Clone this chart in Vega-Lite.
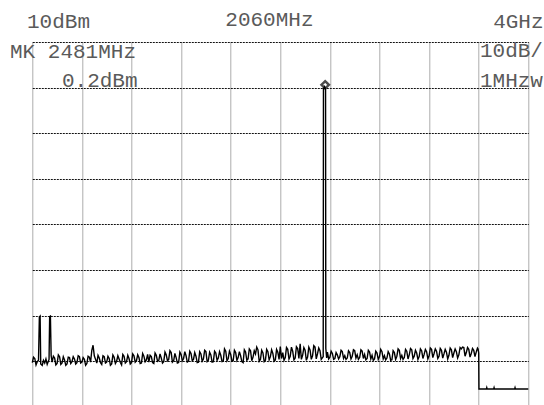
{
  "$schema": "https://vega.github.io/schema/vega-lite/v6.json",
  "width": 496,
  "height": 363,
  "autosize": {"type": "none"},
  "padding": {"left": 32.3, "top": 42, "right": 15.7, "bottom": 0},
  "background": "white",
  "config": {"view": {"stroke": null}},
  "datasets": {
    "trace": [
      {"f":60,"p":-60.3},{"f":70,"p":-59.1},{"f":80,"p":-59.4},{"f":90,"p":-60.8},{"f":100,"p":-60.1},{"f":110,"p":-59.8},{"f":117,"p":-50.3},{"f":123,"p":-50.1},{"f":128,"p":-60.6},
      {"f":140,"p":-60.9},{"f":150,"p":-59.8},{"f":160,"p":-60.4},{"f":170,"p":-59.5},{"f":180,"p":-60.7},{"f":195,"p":-59.6},{"f":200,"p":-50.2},{"f":206,"p":-50.1},{"f":212,"p":-58.8},
      {"f":220,"p":-60.2},{"f":230,"p":-58.9},{"f":240,"p":-59.3},{"f":250,"p":-60.8},{"f":260,"p":-60.5},{"f":270,"p":-58.6},{"f":280,"p":-59.0},{"f":290,"p":-60.7},{"f":300,"p":-60.4},{"f":310,"p":-59.0},{"f":320,"p":-59.7},{"f":330,"p":-60.9},{"f":340,"p":-60.6},
      {"f":350,"p":-59.1},{"f":360,"p":-59.2},{"f":370,"p":-60.5},{"f":380,"p":-60.1},{"f":390,"p":-59.0},{"f":400,"p":-59.5},{"f":410,"p":-60.6},{"f":420,"p":-60.3},{"f":430,"p":-58.8},{"f":440,"p":-59.0},{"f":450,"p":-60.4},{"f":460,"p":-60.2},{"f":470,"p":-59.2},{"f":480,"p":-59.6},
      {"f":490,"p":-60.9},{"f":500,"p":-60.5},{"f":510,"p":-58.9},{"f":520,"p":-59.1},{"f":530,"p":-60.2},{"f":540,"p":-57.6},{"f":550,"p":-56.5},{"f":560,"p":-58.8},{"f":570,"p":-59.6},{"f":580,"p":-60.4},{"f":590,"p":-58.7},{"f":600,"p":-59.3},
      {"f":610,"p":-60.3},{"f":620,"p":-60.7},{"f":630,"p":-58.8},{"f":640,"p":-59.0},{"f":650,"p":-60.4},{"f":660,"p":-60.2},{"f":670,"p":-58.9},{"f":680,"p":-59.4},{"f":690,"p":-60.9},{"f":700,"p":-60.6},{"f":710,"p":-58.6},{"f":720,"p":-59.1},{"f":730,"p":-60.5},{"f":740,"p":-60.0},
      {"f":750,"p":-58.8},{"f":760,"p":-59.5},{"f":770,"p":-60.3},{"f":780,"p":-60.8},{"f":790,"p":-58.5},{"f":800,"p":-58.9},{"f":810,"p":-60.4},{"f":820,"p":-60.1},{"f":830,"p":-58.7},{"f":840,"p":-59.4},{"f":850,"p":-60.6},{"f":860,"p":-60.3},{"f":870,"p":-58.4},{"f":880,"p":-58.8},
      {"f":890,"p":-60.2},{"f":900,"p":-59.9},{"f":910,"p":-58.6},{"f":920,"p":-59.2},{"f":930,"p":-60.5},{"f":940,"p":-60.4},{"f":950,"p":-58.3},{"f":960,"p":-58.9},{"f":970,"p":-60.1},{"f":980,"p":-59.7},{"f":990,"p":-58.5},{"f":1000,"p":-60.2},{"f":1010,"p":-58.7},{"f":1020,"p":-59.0},
      {"f":1030,"p":-60.3},{"f":1040,"p":-60.5},{"f":1050,"p":-58.2},{"f":1060,"p":-58.7},{"f":1070,"p":-60.0},{"f":1080,"p":-59.8},{"f":1090,"p":-58.4},{"f":1100,"p":-59.3},{"f":1110,"p":-60.4},{"f":1120,"p":-60.1},{"f":1130,"p":-58.0},{"f":1140,"p":-58.6},{"f":1150,"p":-59.9},{"f":1160,"p":-59.6},
      {"f":1170,"p":-57.7},{"f":1180,"p":-58.1},{"f":1190,"p":-60.2},{"f":1200,"p":-59.9},{"f":1210,"p":-58.3},{"f":1220,"p":-59.2},{"f":1230,"p":-60.4},{"f":1240,"p":-60.3},{"f":1250,"p":-58.0},{"f":1260,"p":-58.5},{"f":1270,"p":-59.9},{"f":1280,"p":-59.4},{"f":1290,"p":-57.9},{"f":1300,"p":-58.8},
      {"f":1310,"p":-60.2},{"f":1320,"p":-60.0},{"f":1330,"p":-57.8},{"f":1340,"p":-58.3},{"f":1350,"p":-59.9},{"f":1360,"p":-59.6},{"f":1370,"p":-58.1},{"f":1380,"p":-58.9},{"f":1390,"p":-60.3},{"f":1400,"p":-60.2},{"f":1410,"p":-57.9},{"f":1420,"p":-58.4},{"f":1430,"p":-60.0},{"f":1440,"p":-59.5},
      {"f":1450,"p":-57.6},{"f":1460,"p":-57.9},{"f":1470,"p":-60.1},{"f":1480,"p":-59.8},{"f":1490,"p":-58.0},{"f":1500,"p":-58.6},{"f":1510,"p":-60.2},{"f":1520,"p":-60.1},{"f":1530,"p":-57.8},{"f":1540,"p":-58.2},{"f":1550,"p":-59.8},{"f":1560,"p":-59.3},{"f":1570,"p":-57.9},{"f":1580,"p":-58.7},
      {"f":1590,"p":-60.1},{"f":1600,"p":-60.0},{"f":1610,"p":-57.3},{"f":1620,"p":-57.8},{"f":1630,"p":-59.9},{"f":1640,"p":-59.4},{"f":1650,"p":-57.8},{"f":1660,"p":-58.5},{"f":1670,"p":-60.0},{"f":1680,"p":-59.9},{"f":1690,"p":-57.6},{"f":1700,"p":-58.1},{"f":1710,"p":-59.8},{"f":1720,"p":-59.2},
      {"f":1730,"p":-57.9},{"f":1740,"p":-58.8},{"f":1750,"p":-60.1},{"f":1760,"p":-60.3},{"f":1770,"p":-57.5},{"f":1780,"p":-58.0},{"f":1790,"p":-59.8},{"f":1800,"p":-59.5},{"f":1810,"p":-57.3},{"f":1820,"p":-57.7},{"f":1830,"p":-59.9},{"f":1840,"p":-59.1},{"f":1850,"p":-57.7},{"f":1860,"p":-58.4},
      {"f":1870,"p":-56.9},{"f":1880,"p":-57.5},{"f":1890,"p":-60.0},{"f":1900,"p":-59.6},{"f":1910,"p":-57.6},{"f":1920,"p":-58.2},{"f":1930,"p":-60.1},{"f":1940,"p":-59.8},{"f":1950,"p":-57.4},{"f":1960,"p":-57.9},{"f":1970,"p":-59.7},{"f":1980,"p":-59.0},{"f":1990,"p":-57.5},{"f":2000,"p":-58.3},
      {"f":2010,"p":-60.0},{"f":2020,"p":-59.7},{"f":2030,"p":-57.4},{"f":2040,"p":-58.0},{"f":2050,"p":-59.6},{"f":2060,"p":-56.8},{"f":2070,"p":-59.4},{"f":2080,"p":-58.1},{"f":2090,"p":-59.8},{"f":2100,"p":-59.2},{"f":2110,"p":-57.0},{"f":2120,"p":-57.4},{"f":2130,"p":-59.5},{"f":2140,"p":-58.9},
      {"f":2150,"p":-56.9},{"f":2160,"p":-57.8},{"f":2170,"p":-59.7},{"f":2180,"p":-59.3},{"f":2190,"p":-56.8},{"f":2200,"p":-57.2},{"f":2210,"p":-59.4},{"f":2220,"p":-56.2},{"f":2230,"p":-59.6},{"f":2240,"p":-58.7},{"f":2250,"p":-57.0},{"f":2260,"p":-57.6},{"f":2270,"p":-59.8},
      {"f":2280,"p":-59.1},{"f":2290,"p":-56.9},{"f":2300,"p":-57.5},{"f":2310,"p":-59.6},{"f":2320,"p":-58.8},{"f":2330,"p":-56.6},{"f":2340,"p":-56.9},{"f":2350,"p":-59.5},{"f":2360,"p":-58.4},{"f":2370,"p":-57.1},{"f":2380,"p":-57.7},{"f":2390,"p":-59.6},{"f":2400,"p":-59.2},
      {"f":2406,"p":-59.0},{"f":2408,"p":-0.3},{"f":2417,"p":0.2},{"f":2425,"p":-0.3},{"f":2427,"p":-57.2},{"f":2434,"p":-59.3},{"f":2440,"p":-58.0},{"f":2450,"p":-59.5},{"f":2460,"p":-59.1},{"f":2470,"p":-57.8},
      {"f":2480,"p":-58.3},{"f":2490,"p":-59.6},{"f":2500,"p":-59.4},{"f":2510,"p":-58.1},{"f":2520,"p":-58.6},{"f":2530,"p":-59.5},{"f":2540,"p":-59.0},{"f":2550,"p":-57.6},{"f":2560,"p":-57.9},{"f":2570,"p":-59.4},{"f":2580,"p":-58.8},{"f":2590,"p":-59.6},{"f":2600,"p":-59.3},
      {"f":2610,"p":-57.7},{"f":2620,"p":-58.1},{"f":2630,"p":-59.5},{"f":2640,"p":-58.9},{"f":2650,"p":-57.5},{"f":2660,"p":-57.7},{"f":2670,"p":-59.3},{"f":2680,"p":-58.6},{"f":2690,"p":-59.6},{"f":2700,"p":-59.2},{"f":2710,"p":-57.5},{"f":2720,"p":-57.8},{"f":2730,"p":-59.4},{"f":2740,"p":-58.5},
      {"f":2750,"p":-59.7},{"f":2760,"p":-59.4},{"f":2770,"p":-57.6},{"f":2780,"p":-58.0},{"f":2790,"p":-59.5},{"f":2800,"p":-58.7},{"f":2810,"p":-59.8},{"f":2820,"p":-59.5},{"f":2830,"p":-57.8},{"f":2840,"p":-58.2},{"f":2850,"p":-59.6},{"f":2860,"p":-59.0},{"f":2870,"p":-57.4},{"f":2880,"p":-57.9},
      {"f":2890,"p":-59.5},{"f":2900,"p":-58.8},{"f":2910,"p":-59.7},{"f":2920,"p":-59.3},{"f":2930,"p":-57.9},{"f":2940,"p":-58.4},{"f":2950,"p":-59.8},{"f":2960,"p":-59.7},{"f":2970,"p":-57.7},{"f":2980,"p":-58.1},{"f":2990,"p":-59.6},{"f":3000,"p":-58.9},{"f":3010,"p":-57.3},{"f":3020,"p":-57.6},
      {"f":3030,"p":-59.4},{"f":3040,"p":-58.7},{"f":3050,"p":-59.6},{"f":3060,"p":-59.2},{"f":3070,"p":-57.4},{"f":3080,"p":-57.8},{"f":3090,"p":-59.5},{"f":3100,"p":-58.6},{"f":3110,"p":-57.2},{"f":3120,"p":-57.5},{"f":3130,"p":-59.4},{"f":3140,"p":-58.9},{"f":3150,"p":-57.6},{"f":3160,"p":-58.2},
      {"f":3170,"p":-59.6},{"f":3180,"p":-59.0},{"f":3190,"p":-57.3},{"f":3200,"p":-57.7},{"f":3210,"p":-59.4},{"f":3220,"p":-58.5},{"f":3230,"p":-57.4},{"f":3240,"p":-57.9},{"f":3250,"p":-59.5},{"f":3260,"p":-58.8},{"f":3270,"p":-57.1},{"f":3280,"p":-57.4},{"f":3290,"p":-59.2},{"f":3300,"p":-58.3},
      {"f":3310,"p":-57.3},{"f":3320,"p":-57.8},{"f":3330,"p":-59.4},{"f":3340,"p":-58.9},{"f":3350,"p":-57.2},{"f":3360,"p":-57.6},{"f":3370,"p":-59.3},{"f":3380,"p":-58.4},{"f":3390,"p":-57.4},{"f":3400,"p":-58.0},{"f":3410,"p":-59.5},{"f":3420,"p":-58.7},{"f":3430,"p":-57.1},{"f":3440,"p":-57.5},
      {"f":3450,"p":-59.2},{"f":3460,"p":-58.2},{"f":3470,"p":-57.3},{"f":3480,"p":-57.9},{"f":3490,"p":-59.3},{"f":3500,"p":-58.6},{"f":3510,"p":-57.0},{"f":3520,"p":-57.3},{"f":3530,"p":-56.9},{"f":3540,"p":-57.0},{"f":3550,"p":-58.9},{"f":3560,"p":-58.1},{"f":3570,"p":-57.0},{"f":3580,"p":-57.4},
      {"f":3590,"p":-59.1},{"f":3600,"p":-58.3},{"f":3610,"p":-57.2},{"f":3620,"p":-57.6},{"f":3630,"p":-59.0},{"f":3640,"p":-58.0},{"f":3650,"p":-57.1},{"f":3655,"p":-57.3},{"f":3660,"p":-58.2},{"f":3662,"p":-66.1},{"f":3722,"p":-66.1},
      {"f":3725,"p":-65.8},{"f":3728,"p":-66.1},{"f":3781,"p":-66.1},{"f":3784,"p":-65.8},{"f":3787,"p":-66.1},{"f":3950,"p":-66.1},{"f":3953,"p":-65.8},
      {"f":3956,"p":-66.1},{"f":4060,"p":-66.1}
    ],
    "leftLabels": [
      {"t":"10dBm","f":17,"p":13.07},
      {"t":"MK 2481MHz","f":-120,"p":6.49},
      {"t":"0.2dBm","f":299,"p":0.24},
      {"t":"10dB/","f":3670,"p":6.71},
      {"t":"1MHzw","f":3670,"p":0.13}
    ],
    "centerLabels": [{"t":"2060MHz","f":1972,"p":13.5}],
    "rightLabels": [{"t":"4GHz","f":4183,"p":13.07}],
    "marker": [{"f":2422,"p":0.6}]
  },
  "layer": [
    {
      "data": {"name": "trace"},
      "mark": {"type": "line", "color": "black", "strokeWidth": 1.4, "interpolate": "linear"},
      "encoding": {
        "x": {"field": "f", "type": "quantitative",
              "scale": {"domain": [60, 4060], "nice": false, "zero": false},
              "axis": {"values": [60,460,860,1260,1660,2060,2460,2860,3260,3660,4060],
                       "grid": true, "gridColor": "#5a5a5a", "gridDash": [1,1], "gridWidth": 1,
                       "labels": false, "ticks": false, "domain": false, "title": null}},
        "y": {"field": "p", "type": "quantitative",
              "scale": {"domain": [-69.6, 10], "nice": false, "zero": false},
              "axis": {"values": [-60,-50,-40,-30,-20,-10,0,10],
                       "grid": true, "gridColor": "#111111", "gridDash": [2,1], "gridWidth": 1.2,
                       "labels": false, "ticks": false, "domain": false, "title": null}}
      }
    },
    {
      "mark": {"type": "rule", "color": "#2a2a2a", "strokeWidth": 1.2},
      "encoding": {"x": {"datum": 2060, "type": "quantitative"}}
    },
    {
      "mark": {"type": "rule", "color": "#444444", "strokeWidth": 1.3},
      "encoding": {"x": {"datum": 4060, "type": "quantitative"}}
    },
    {
      "mark": {"type": "rule", "color": "#222222", "strokeWidth": 1.2},
      "encoding": {"y": {"datum": -50, "type": "quantitative"}}
    },
    {
      "data": {"name": "marker"},
      "mark": {"type": "point", "shape": "diamond", "size": 55, "filled": false, "stroke": "black", "strokeWidth": 2.5},
      "encoding": {"x": {"field": "f", "type": "quantitative"}, "y": {"field": "p", "type": "quantitative"}}
    },
    {
      "data": {"name": "leftLabels"},
      "mark": {"type": "text", "align": "left", "baseline": "alphabetic", "font": "Liberation Mono", "fontSize": 21, "color": "#5a5a5a"},
      "encoding": {"x": {"field": "f", "type": "quantitative"}, "y": {"field": "p", "type": "quantitative"}, "text": {"field": "t"}}
    },
    {
      "data": {"name": "centerLabels"},
      "mark": {"type": "text", "align": "center", "baseline": "alphabetic", "font": "Liberation Mono", "fontSize": 21, "color": "#5a5a5a"},
      "encoding": {"x": {"field": "f", "type": "quantitative"}, "y": {"field": "p", "type": "quantitative"}, "text": {"field": "t"}}
    },
    {
      "data": {"name": "rightLabels"},
      "mark": {"type": "text", "align": "right", "baseline": "alphabetic", "font": "Liberation Mono", "fontSize": 21, "color": "#5a5a5a"},
      "encoding": {"x": {"field": "f", "type": "quantitative"}, "y": {"field": "p", "type": "quantitative"}, "text": {"field": "t"}}
    }
  ]
}
